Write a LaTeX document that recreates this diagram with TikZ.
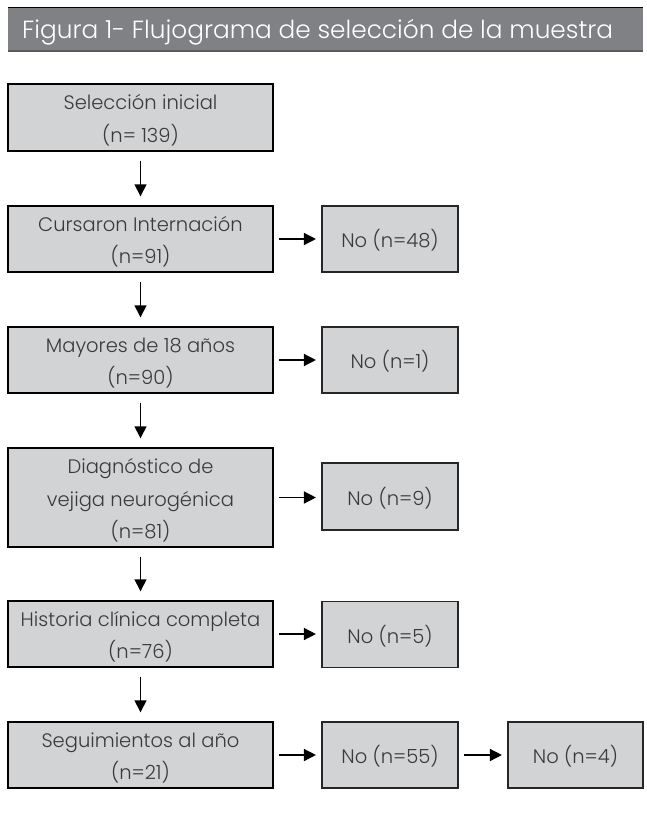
\documentclass[tikz,border=0pt]{standalone}
\usepackage{fontspec}
\setmainfont{Poppins}[UprightFont=* Light]
\usetikzlibrary{arrows.meta}
\definecolor{titlegray}{HTML}{808184}
\definecolor{titleline}{HTML}{58595B}
\definecolor{boxgray}{HTML}{D1D3D4}
\definecolor{txtgray}{HTML}{3A3A3A}
\newcommand\topstr{\rule{0pt}{22pt}}
\newcommand\botstr{\rule[-4.6pt]{0pt}{4.6pt}}
\tikzset{
  mainbox/.style={draw=black, line width=1.4pt, fill=boxgray, minimum width=265pt, minimum height=66pt,
    align=center, text=txtgray, inner sep=0pt, font=\fontsize{19.5}{32.5}\selectfont},
  sidebox/.style={draw=black!85, line width=1.1pt, fill=boxgray, minimum width=136pt, minimum height=66pt,
    align=center, text=txtgray, inner sep=0pt, font=\fontsize{19.5}{32.5}\selectfont},
  arr/.style={line width=1.4pt, -{Triangle[length=12pt,width=12pt]}},
}
\begin{document}
\begin{tikzpicture}[x=1pt,y=-1pt]
\useasboundingbox (0,0) rectangle (646,816);
% title bar
\fill[titlegray] (8,8) rectangle (643,51);
\draw[black, line width=1pt] (8,7.5) -- (643,7.5);
\draw[titleline, line width=1.6pt] (8,51) -- (643,51);
\node[anchor=base west, text=white, inner sep=0pt, font=\fontsize{24.8}{28}\selectfont] (title) at (22,38.5) {Figura 1- Flujograma de selección de la muestra};
% main column
\node[mainbox, minimum height=67pt] (b1) at (140.5,117.5) {\topstr Selección inicial\\(n= 139)\botstr};
\node[mainbox] (b2) at (140.5,239) {\topstr Cursaron Internación\\(n=91)\botstr};
\node[mainbox] (b3) at (140.5,360) {\topstr Mayores de 18 años\\(n=90)\botstr};
\node[mainbox, minimum height=99pt] (b4) at (140.5,497.5) {\topstr Diagnóstico de\\vejiga neurogénica\\(n=81)\botstr};
\node[mainbox] (b5) at (140.5,634) {\topstr Historia clínica completa\\(n=76)\botstr};
\node[mainbox] (b6) at (140.5,755) {\topstr Seguimientos al año\\(n=21)\botstr};
% side boxes
\node[sidebox] (s1) at (390,239) {\topstr No (n=48)\botstr};
\node[sidebox] (s2) at (390,360) {\topstr No (n=1)\botstr};
\node[sidebox, minimum height=67pt] (s3) at (390,496.5) {\topstr No (n=9)\botstr};
\node[sidebox] (s4) at (390,634.5) {\topstr No (n=5)\botstr};
\node[sidebox] (s5) at (390,755) {\topstr No (n=55)\botstr};
\node[sidebox, minimum width=135pt] (s6) at (575.5,755) {\topstr No (n=4)\botstr};
% vertical arrows
\foreach \a/\b in {b1/b2,b2/b3,b3/b4,b4/b5,b5/b6}
  \draw[arr, shorten <=9pt, shorten >=9pt] (\a.south) -- (\b.north);
% horizontal arrows
\foreach \a/\b in {b2/s1,b3/s2,b4/s3,b5/s4,b6/s5,s5/s6}
  \draw[arr, shorten <=5.5pt, shorten >=5.5pt] (\a.east) -- (\a.east -| \b.west);
\end{tikzpicture}
\end{document}
